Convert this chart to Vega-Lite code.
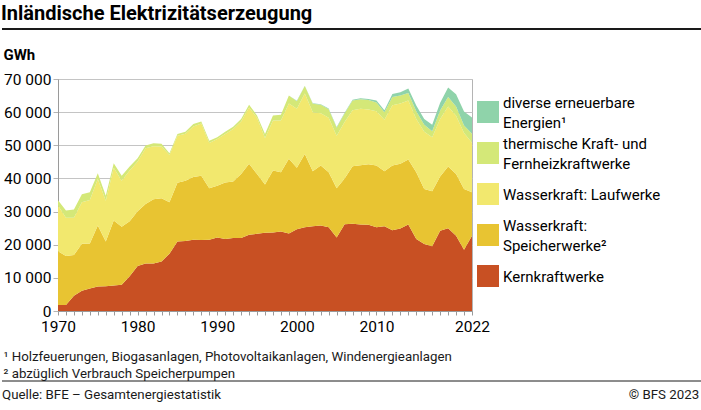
{
  "$schema": "https://vega.github.io/schema/vega-lite/v6.json",
  "background": "white",
  "padding": {"left": 1, "top": 4, "right": 0, "bottom": 0},
  "title": {
    "text": "Inländische Elektrizitätserzeugung",
    "anchor": "start",
    "frame": "bounds",
    "font": "Roboto",
    "fontSize": 20,
    "fontWeight": "bold",
    "color": "#000",
    "offset": 4
  },
  "config": {
    "font": "Roboto",
    "view": {"stroke": null},
    "locale": {"number": {"decimal": ",", "thousands": " ", "grouping": [3], "currency": ["", " CHF"]}},
    "style": {"guide-label": {"lineHeight": 10}}
  },
  "spacing": 0,
  "datasets": {
    "strom": [
      {"Jahr": 1970, "e_kern": 1800, "d_speicher": 16200, "c_lauf": 13800, "b_therm": 1600, "a_div": 0},
      {"Jahr": 1971, "e_kern": 1800, "d_speicher": 14800, "c_lauf": 11500, "b_therm": 2200, "a_div": 0},
      {"Jahr": 1972, "e_kern": 4600, "d_speicher": 12300, "c_lauf": 11200, "b_therm": 2500, "a_div": 0},
      {"Jahr": 1973, "e_kern": 6100, "d_speicher": 14200, "c_lauf": 12500, "b_therm": 2400, "a_div": 0},
      {"Jahr": 1974, "e_kern": 6800, "d_speicher": 13600, "c_lauf": 13100, "b_therm": 2300, "a_div": 0},
      {"Jahr": 1975, "e_kern": 7400, "d_speicher": 18400, "c_lauf": 14000, "b_therm": 1800, "a_div": 0},
      {"Jahr": 1976, "e_kern": 7500, "d_speicher": 13500, "c_lauf": 12300, "b_therm": 1500, "a_div": 0},
      {"Jahr": 1977, "e_kern": 7700, "d_speicher": 19600, "c_lauf": 15900, "b_therm": 1400, "a_div": 0},
      {"Jahr": 1978, "e_kern": 7900, "d_speicher": 17500, "c_lauf": 13900, "b_therm": 1500, "a_div": 0},
      {"Jahr": 1979, "e_kern": 10500, "d_speicher": 16600, "c_lauf": 15300, "b_therm": 1200, "a_div": 0},
      {"Jahr": 1980, "e_kern": 13600, "d_speicher": 16500, "c_lauf": 15000, "b_therm": 1000, "a_div": 0},
      {"Jahr": 1981, "e_kern": 14300, "d_speicher": 18000, "c_lauf": 16800, "b_therm": 800, "a_div": 0},
      {"Jahr": 1982, "e_kern": 14300, "d_speicher": 19400, "c_lauf": 16000, "b_therm": 900, "a_div": 0},
      {"Jahr": 1983, "e_kern": 14900, "d_speicher": 19100, "c_lauf": 15600, "b_therm": 900, "a_div": 0},
      {"Jahr": 1984, "e_kern": 17300, "d_speicher": 15500, "c_lauf": 14300, "b_therm": 500, "a_div": 0},
      {"Jahr": 1985, "e_kern": 21000, "d_speicher": 17700, "c_lauf": 14200, "b_therm": 500, "a_div": 0},
      {"Jahr": 1986, "e_kern": 21100, "d_speicher": 18200, "c_lauf": 14200, "b_therm": 600, "a_div": 0},
      {"Jahr": 1987, "e_kern": 21500, "d_speicher": 18900, "c_lauf": 15300, "b_therm": 700, "a_div": 0},
      {"Jahr": 1988, "e_kern": 21400, "d_speicher": 19400, "c_lauf": 15800, "b_therm": 600, "a_div": 0},
      {"Jahr": 1989, "e_kern": 21500, "d_speicher": 15500, "c_lauf": 13700, "b_therm": 700, "a_div": 0},
      {"Jahr": 1990, "e_kern": 22200, "d_speicher": 15600, "c_lauf": 14100, "b_therm": 500, "a_div": 0},
      {"Jahr": 1991, "e_kern": 21700, "d_speicher": 17100, "c_lauf": 14600, "b_therm": 700, "a_div": 0},
      {"Jahr": 1992, "e_kern": 22000, "d_speicher": 17100, "c_lauf": 15800, "b_therm": 700, "a_div": 0},
      {"Jahr": 1993, "e_kern": 22000, "d_speicher": 19300, "c_lauf": 15900, "b_therm": 700, "a_div": 0},
      {"Jahr": 1994, "e_kern": 23000, "d_speicher": 21400, "c_lauf": 17000, "b_therm": 800, "a_div": 0},
      {"Jahr": 1995, "e_kern": 23300, "d_speicher": 18000, "c_lauf": 17000, "b_therm": 700, "a_div": 0},
      {"Jahr": 1996, "e_kern": 23600, "d_speicher": 14600, "c_lauf": 14000, "b_therm": 1200, "a_div": 0},
      {"Jahr": 1997, "e_kern": 23700, "d_speicher": 18700, "c_lauf": 15100, "b_therm": 1500, "a_div": 0},
      {"Jahr": 1998, "e_kern": 24000, "d_speicher": 17900, "c_lauf": 15600, "b_therm": 1700, "a_div": 0},
      {"Jahr": 1999, "e_kern": 23400, "d_speicher": 22500, "c_lauf": 16700, "b_therm": 2400, "a_div": 0},
      {"Jahr": 2000, "e_kern": 24700, "d_speicher": 18500, "c_lauf": 17800, "b_therm": 2300, "a_div": 100},
      {"Jahr": 2001, "e_kern": 25300, "d_speicher": 22100, "c_lauf": 18200, "b_therm": 2300, "a_div": 100},
      {"Jahr": 2002, "e_kern": 25600, "d_speicher": 16600, "c_lauf": 17800, "b_therm": 2500, "a_div": 150},
      {"Jahr": 2003, "e_kern": 25800, "d_speicher": 18100, "c_lauf": 15800, "b_therm": 2500, "a_div": 150},
      {"Jahr": 2004, "e_kern": 25300, "d_speicher": 16600, "c_lauf": 16400, "b_therm": 2600, "a_div": 200},
      {"Jahr": 2005, "e_kern": 22200, "d_speicher": 14800, "c_lauf": 15900, "b_therm": 2400, "a_div": 200},
      {"Jahr": 2006, "e_kern": 26200, "d_speicher": 13800, "c_lauf": 17000, "b_therm": 2600, "a_div": 250},
      {"Jahr": 2007, "e_kern": 26300, "d_speicher": 17400, "c_lauf": 16900, "b_therm": 2900, "a_div": 250},
      {"Jahr": 2008, "e_kern": 26100, "d_speicher": 17900, "c_lauf": 17000, "b_therm": 2900, "a_div": 300},
      {"Jahr": 2009, "e_kern": 26000, "d_speicher": 18300, "c_lauf": 16500, "b_therm": 2900, "a_div": 300},
      {"Jahr": 2010, "e_kern": 25300, "d_speicher": 18600, "c_lauf": 16400, "b_therm": 2600, "a_div": 600},
      {"Jahr": 2011, "e_kern": 25600, "d_speicher": 16600, "c_lauf": 15500, "b_therm": 2300, "a_div": 600},
      {"Jahr": 2012, "e_kern": 24400, "d_speicher": 19500, "c_lauf": 18200, "b_therm": 2500, "a_div": 900},
      {"Jahr": 2013, "e_kern": 24900, "d_speicher": 19500, "c_lauf": 18200, "b_therm": 2400, "a_div": 1000},
      {"Jahr": 2014, "e_kern": 26100, "d_speicher": 19600, "c_lauf": 17800, "b_therm": 2300, "a_div": 1300},
      {"Jahr": 2015, "e_kern": 21700, "d_speicher": 20200, "c_lauf": 16000, "b_therm": 2400, "a_div": 1700},
      {"Jahr": 2016, "e_kern": 20200, "d_speicher": 16600, "c_lauf": 17300, "b_therm": 2100, "a_div": 1700},
      {"Jahr": 2017, "e_kern": 19500, "d_speicher": 16600, "c_lauf": 16300, "b_therm": 1800, "a_div": 2000},
      {"Jahr": 2018, "e_kern": 24200, "d_speicher": 16400, "c_lauf": 17300, "b_therm": 2600, "a_div": 2300},
      {"Jahr": 2019, "e_kern": 25000, "d_speicher": 18600, "c_lauf": 18100, "b_therm": 2900, "a_div": 2800},
      {"Jahr": 2020, "e_kern": 22700, "d_speicher": 18600, "c_lauf": 17600, "b_therm": 2800, "a_div": 3700},
      {"Jahr": 2021, "e_kern": 18500, "d_speicher": 18300, "c_lauf": 16900, "b_therm": 2300, "a_div": 4200},
      {"Jahr": 2022, "e_kern": 22700, "d_speicher": 13100, "c_lauf": 15000, "b_therm": 2700, "a_div": 4900}
    ]
  },
  "vconcat": [
    {
      "width": 644,
      "height": 17,
      "data": {"values": [{}]},
      "mark": {"type": "rule", "color": "#1a1a1a", "strokeWidth": 2},
      "encoding": {
        "x": {"datum": 0, "type": "quantitative", "scale": {"domain": [0, 1], "range": [-56, 644]}, "axis": null},
        "x2": {"datum": 1},
        "y": {"datum": 1, "type": "quantitative", "scale": {"domain": [0, 1]}, "axis": null}
      }
    },
    {
      "width": 414,
      "height": 232,
      "view": {"stroke": "#b4b4b4"},
      "data": {"name": "strom"},
      "transform": [
        {"fold": ["e_kern", "d_speicher", "c_lauf", "b_therm", "a_div"], "as": ["Quelle", "GWh"]}
      ],
      "mark": {"type": "area", "interpolate": "linear"},
      "encoding": {
        "x": {
          "field": "Jahr",
          "type": "quantitative",
          "scale": {"domain": [1970, 2022], "nice": false, "zero": false},
          "axis": {
            "values": [1970, 1971, 1972, 1973, 1974, 1975, 1976, 1977, 1978, 1979, 1980, 1981, 1982, 1983, 1984, 1985, 1986, 1987, 1988, 1989, 1990, 1991, 1992, 1993, 1994, 1995, 1996, 1997, 1998, 1999, 2000, 2001, 2002, 2003, 2004, 2005, 2006, 2007, 2008, 2009, 2010, 2011, 2012, 2013, 2014, 2015, 2016, 2017, 2018, 2019, 2020, 2021, 2022],
            "labelExpr": "indexof([1970, 1980, 1990, 2000, 2010, 2022], datum.value) >= 0 ? '' + datum.value : ''",
            "labelFlush": false,
            "labelOverlap": false,
            "labelFontSize": 15.5,
            "labelColor": "#000",
            "labelPadding": 4,
            "tickSize": 4,
            "tickColor": "#9a9a9a",
            "domainColor": "#9a9a9a",
            "grid": false,
            "title": ["¹ Holzfeuerungen, Biogasanlagen, Photovoltaikanlagen, Windenergieanlagen", "² abzüglich Verbrauch Speicherpumpen"],
            "titleFontSize": 13.3,
            "titleFontWeight": "normal",
            "titleColor": "#1a1a1a",
            "titleAlign": "left",
            "titleBaseline": "top",
            "titleAnchor": "start",
            "titleLineHeight": 17,
            "titleX": -55,
            "titleY": 38
          }
        },
        "y": {
          "field": "GWh",
          "type": "quantitative",
          "stack": "zero",
          "scale": {"domain": [0, 70000], "nice": false},
          "axis": {
            "values": [0, 10000, 20000, 30000, 40000, 50000, 60000, 70000],
            "format": ",d",
            "labelFontSize": 15.5,
            "labelColor": "#000",
            "labelPadding": 2,
            "tickSize": 5,
            "tickColor": "#b4b4b4",
            "domainColor": "#9a9a9a",
            "gridColor": "#c4c4c4",
            "title": "GWh",
            "titleAngle": 0,
            "titleAlign": "left",
            "titleBaseline": "middle",
            "titleFontSize": 15,
            "titleFontWeight": "bold",
            "titleColor": "#000",
            "titleX": -55,
            "titleY": -25
          }
        },
        "color": {
          "field": "Quelle",
          "type": "nominal",
          "scale": {
            "domain": ["a_div", "b_therm", "c_lauf", "d_speicher", "e_kern"],
            "range": ["#8fd3aa", "#d4e878", "#f2e86e", "#e8c432", "#c85023"]
          },
          "legend": {
            "title": null,
            "orient": "none",
            "legendX": 419,
            "legendY": 69,
            "padding": 0,
            "symbolType": "M0,-1.67M0,2M-1,-0.727H1V1.273H-1Z",
            "symbolSize": 484,
            "symbolStrokeWidth": 0,
            "symbolOpacity": 1,
            "rowPadding": 0,
            "labelOffset": 4,
            "labelFontSize": 15,
            "labelBaseline": "line-bottom",
            "labelColor": "#000",
            "labelLimit": 300,
            "labelExpr": "datum.label == 'a_div' ? ['diverse erneuerbare', '\u200b', 'Energien¹'] : datum.label == 'b_therm' ? ['thermische Kraft- und', '\u200b', 'Fernheizkraftwerke'] : datum.label == 'c_lauf' ? ['\u200b', 'Wasserkraft: Laufwerke'] : datum.label == 'd_speicher' ? ['Wasserkraft:', '\u200b', 'Speicherwerke²'] : ['\u200b', 'Kernkraftwerke']"
          }
        }
      }
    },
    {
      "width": 644,
      "height": 20,
      "data": {"values": [{}]},
      "layer": [
        {
          "mark": {"type": "rule", "color": "#1a1a1a", "strokeWidth": 1},
          "encoding": {
            "x": {"datum": 0, "type": "quantitative", "scale": {"domain": [0, 1], "range": [-56, 644]}, "axis": null},
            "x2": {"datum": 1},
            "y": {"datum": 1, "type": "quantitative", "scale": {"domain": [0, 1]}, "axis": null}
          }
        },
        {
          "mark": {"type": "text", "text": "Quelle: BFE – Gesamtenergiestatistik", "align": "left", "fontSize": 13.3, "color": "#1a1a1a"},
          "encoding": {
            "x": {"datum": 0, "type": "quantitative"},
            "y": {"datum": 0.3, "type": "quantitative"}
          }
        },
        {
          "mark": {"type": "text", "text": "© BFS 2023", "align": "right", "fontSize": 13.3, "color": "#1a1a1a"},
          "encoding": {
            "x": {"datum": 0.996, "type": "quantitative"},
            "y": {"datum": 0.3, "type": "quantitative"}
          }
        }
      ]
    }
  ]
}
